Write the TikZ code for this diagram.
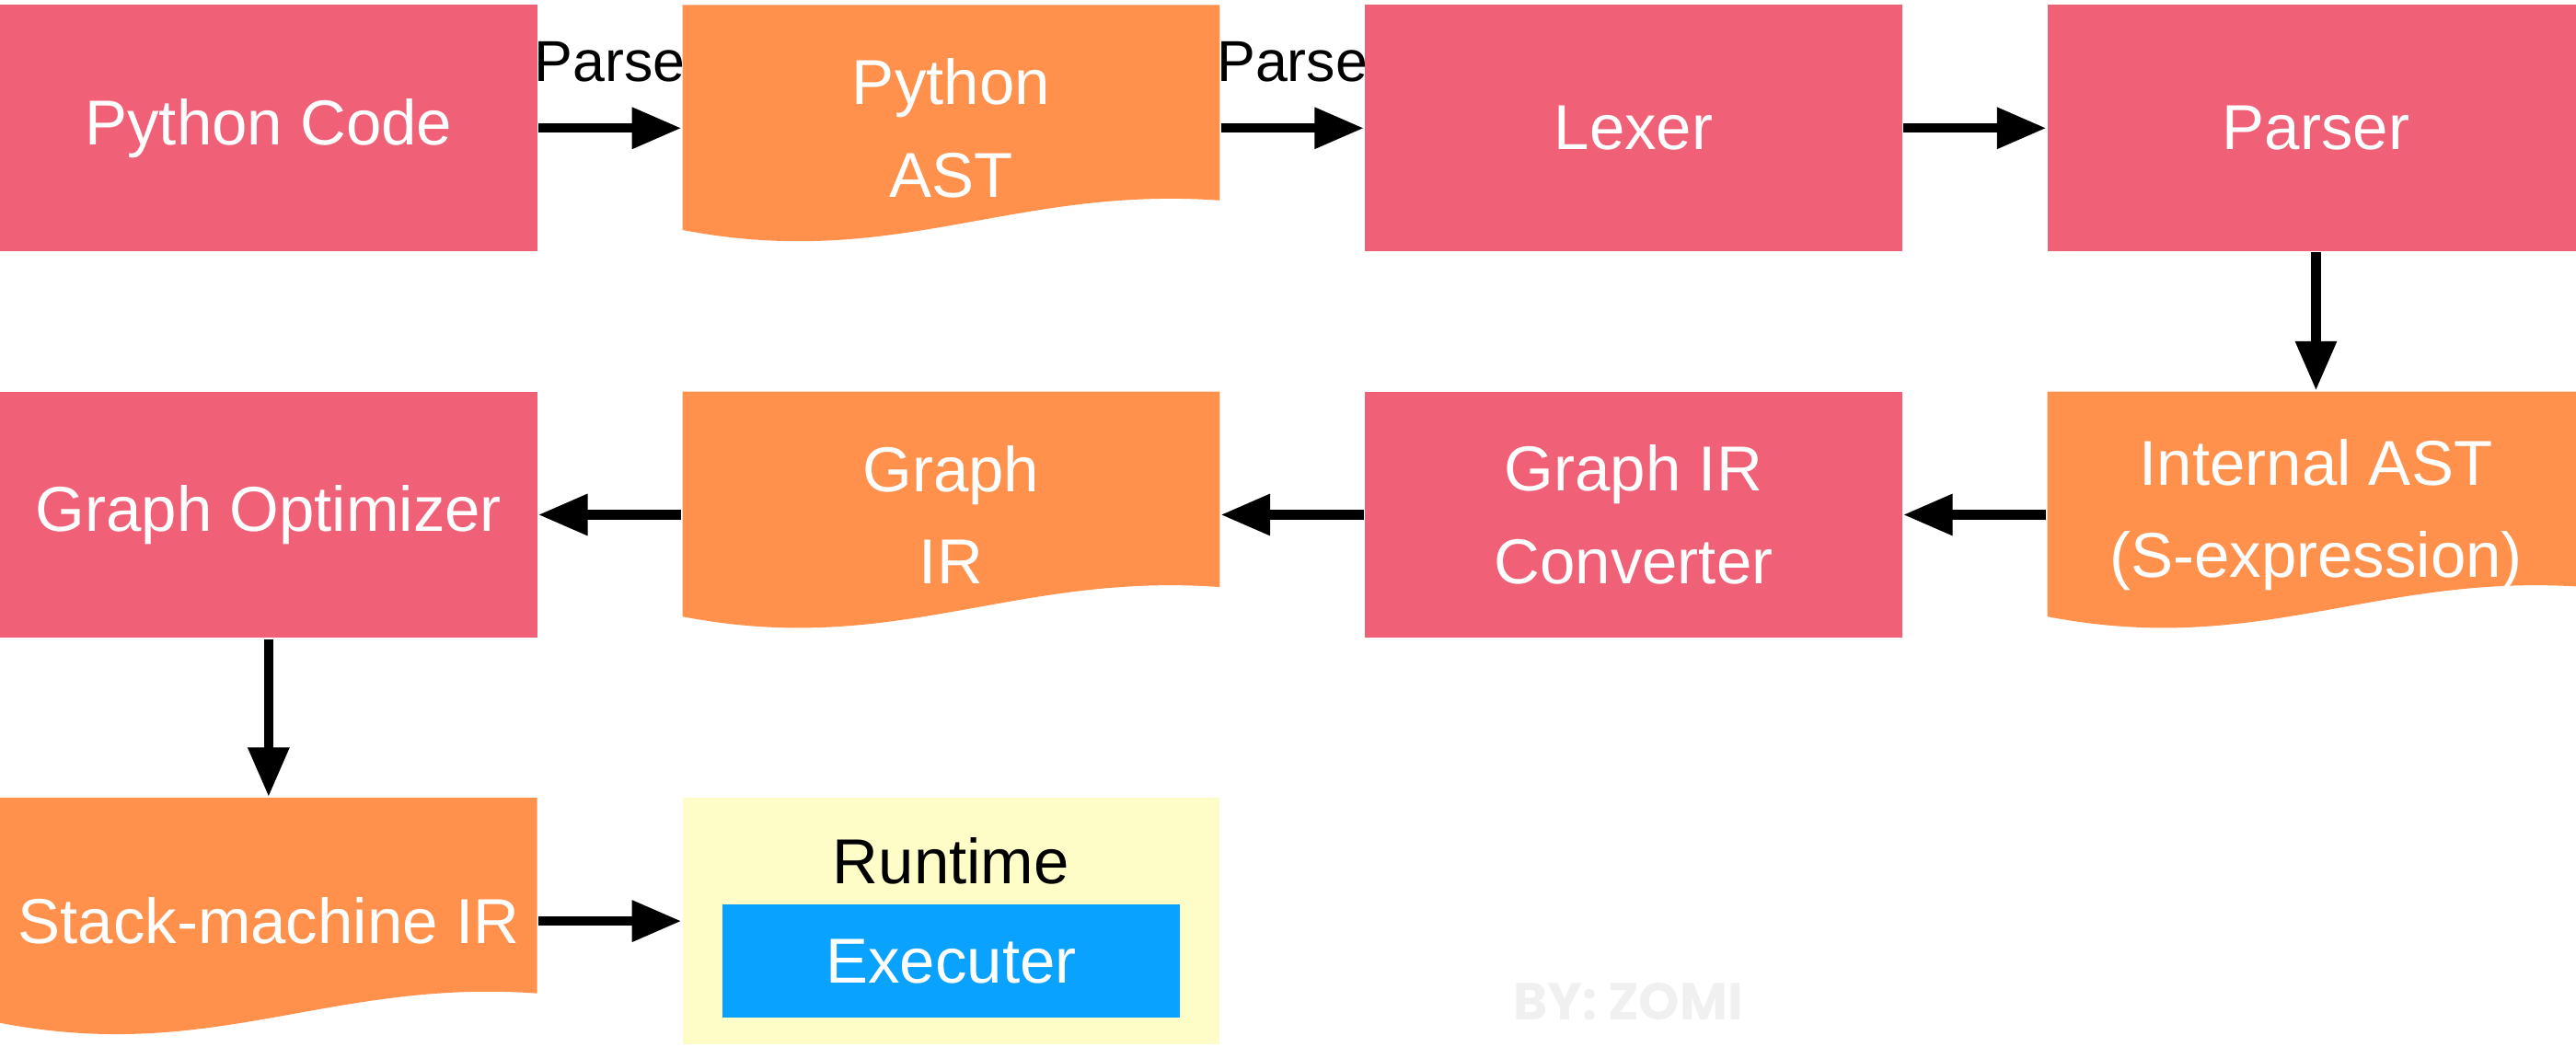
\documentclass[tikz,border=0pt]{standalone}
\usepackage{fontspec}
\setmainfont{Liberation Sans}
\newfontfamily\markfont{Poppins}
\usepackage{tikz}
\usetikzlibrary{positioning,arrows.meta}
\definecolor{boxpink}{HTML}{F06177}
\definecolor{boxorange}{HTML}{FF914D}
\definecolor{rtyellow}{HTML}{FFFDC7}
\definecolor{exeblue}{HTML}{0AA2FF}

\begin{document}
\begin{tikzpicture}[node distance=0.87cm,b/.style={fill=boxpink,text=white,align=center,font=\fontsize{11}{16}\selectfont,minimum width=3.27cm,minimum height=1.5cm,inner sep=0pt},doc/.style={b,fill=none,path picture={\fill[boxorange] (path picture bounding box.north west) -- (path picture bounding box.north east) -- ([yshift=3.1mm]path picture bounding box.south east) .. controls +(-1.27,0.09) and +(1.3,-0.25) .. ([yshift=1.3mm]path picture bounding box.south west) -- cycle;}},a/.style={-{Triangle[length=3mm,width=2.4mm]},line width=1.6pt},lbl/.style={font=\fontsize{10}{12}\selectfont,inner sep=0pt}]
\useasboundingbox (0,0) rectangle (15.68,-6.37);
\node[b] (pycode) at (1.635,-0.78) {Python Code};
\node[doc,right=of pycode] (pyast) {Python\\AST};
\node[b,right=of pyast] (lexer) {Lexer};
\node[b,right=of lexer] (parser) {Parser};
\node[doc,below=0.84cm of parser] (iast) {Internal AST\\(S-expression)};
\node[b,left=of iast] (conv) {Graph IR\\Converter};
\node[doc,left=of conv] (gir) {Graph\\IR};
\node[b,left=of gir] (opt) {Graph Optimizer};
\node[doc,below=0.96cm of opt] (stack) {Stack-machine IR};
\node[b,right=of stack,fill=rtyellow] (rt) {};
\node[lbl,font=\fontsize{11}{13}\selectfont] (rtlbl) at ([yshift=-3.9mm]rt.north) {Runtime};
\node[b,fill=exeblue,minimum width=2.78cm,minimum height=0.69cm,below=0.65cm of rt.north] (exe) {Executer};
\draw[a] (pycode)--node[lbl,above=2.5mm] (p1) {Parse} (pyast);
\draw[a] (pyast)--node[lbl,above=2.5mm] (p2) {Parse} (lexer);
\draw[a] (lexer)--(parser); \draw[a] (parser)--(iast);
\draw[a] (iast)--(conv); \draw[a] (conv)--(gir); \draw[a] (gir)--(opt);
\draw[a] (opt)--(stack); \draw[a] (stack)--(rt);
\node[text=black!6,font=\markfont\bfseries\fontsize{9}{11}\selectfont] (mark) at (9.91,-6.10) {BY: ZOMI};
\end{tikzpicture}
\end{document}
